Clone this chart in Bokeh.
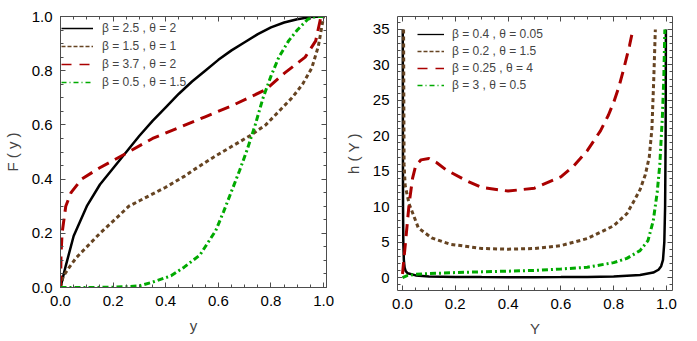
from bokeh.plotting import figure
from bokeh.layouts import row
from bokeh.models import (LinearAxis, FixedTicker, PrintfTickFormatter, Legend,
                          LegendItem, Range1d)
from bokeh.embed import file_html
from bokeh.resources import INLINE

# ---------------- data: left panel F(y) ----------------
F1_x = [0, 0.01, 0.02, 0.05, 0.1, 0.15, 0.2, 0.25, 0.3, 0.35, 0.4, 0.45, 0.5, 0.55, 0.6, 0.65, 0.7, 0.75, 0.8, 0.85, 0.9, 0.95, 1.0]
F1_y = [0, 0.04, 0.08, 0.19, 0.30, 0.38, 0.44, 0.50, 0.56, 0.615, 0.665, 0.715, 0.76, 0.80, 0.84, 0.875, 0.905, 0.935, 0.96, 0.978, 0.99, 0.998, 1.0]

F2_x = [0, 0.01, 0.03, 0.06, 0.1, 0.15, 0.2, 0.26, 0.3, 0.4, 0.47, 0.5, 0.58, 0.65, 0.72, 0.78, 0.83, 0.88, 0.92, 0.955, 0.98, 1.0]
F2_y = [0, 0.04, 0.07, 0.11, 0.15, 0.20, 0.245, 0.30, 0.32, 0.37, 0.41, 0.43, 0.48, 0.52, 0.56, 0.60, 0.65, 0.70, 0.75, 0.81, 0.89, 1.0]

F3_x = [0, 0.002, 0.006, 0.02, 0.04, 0.08, 0.146, 0.253, 0.35, 0.475, 0.55, 0.65, 0.78, 0.85, 0.93, 0.97, 0.99]
F3_y = [0, 0.12, 0.20, 0.30, 0.35, 0.40, 0.44, 0.497, 0.55, 0.60, 0.63, 0.67, 0.73, 0.79, 0.85, 0.91, 1.0]

F4_x = [0, 0.1, 0.2, 0.25, 0.3, 0.35, 0.42, 0.47, 0.53, 0.59, 0.62, 0.65, 0.68, 0.71, 0.74, 0.77, 0.8, 0.83, 0.867, 0.9, 0.94, 0.97, 1.0]
F4_y = [0, 0, 0.001, 0.003, 0.006, 0.02, 0.043, 0.075, 0.12, 0.21, 0.28, 0.355, 0.43, 0.51, 0.60, 0.70, 0.78, 0.85, 0.91, 0.95, 0.99, 1.0, 1.0]

# ---------------- data: right panel h(Y) ----------------
H1_x = [0.001, 0.0015, 0.002, 0.003, 0.005, 0.008, 0.012, 0.02, 0.05, 0.1, 0.2, 0.3, 0.4, 0.5, 0.6, 0.7, 0.8, 0.9, 0.95, 0.97, 0.98, 0.987, 0.992, 0.995, 0.997, 0.998]
H1_y = [35, 20, 10, 5, 2.5, 1.4, 0.9, 0.6, 0.3, 0.15, 0.08, 0.06, 0.05, 0.05, 0.06, 0.08, 0.15, 0.35, 0.7, 1.1, 1.6, 2.5, 5, 10, 20, 35]

H2_x = [0.004, 0.005, 0.006, 0.01, 0.025, 0.06, 0.11, 0.18, 0.3, 0.4, 0.5, 0.6, 0.7, 0.8, 0.85, 0.88, 0.9, 0.92, 0.935, 0.945, 0.952, 0.958]
H2_y = [35, 25, 16, 13, 10.4, 7.0, 5.6, 4.7, 4.1, 4.0, 4.1, 4.5, 5.5, 7.3, 9.0, 11.0, 12.4, 14.5, 17.0, 21.0, 28.0, 35.0]

H3_x = [0.0, 0.005, 0.013, 0.025, 0.038, 0.05, 0.07, 0.1, 0.13, 0.165, 0.24, 0.3, 0.4, 0.5, 0.6, 0.65, 0.7, 0.75, 0.78, 0.8, 0.82, 0.84, 0.86, 0.873]
H3_y = [0.5, 2.5, 5.6, 10.4, 14.0, 15.8, 16.6, 16.8, 16.2, 15.2, 13.7, 12.7, 12.2, 12.6, 14.2, 15.8, 17.9, 20.7, 22.9, 24.7, 26.9, 29.7, 32.7, 35.0]

H4_x = [0.0, 0.02, 0.05, 0.1, 0.2, 0.3, 0.4, 0.5, 0.6, 0.7, 0.8, 0.85, 0.9, 0.93, 0.95, 0.965, 0.975, 0.985, 0.99, 0.994]
H4_y = [0.0, 0.3, 0.45, 0.55, 0.7, 0.8, 0.9, 1.0, 1.2, 1.45, 2.1, 2.7, 3.8, 5.2, 8.0, 12.0, 16.0, 23.0, 28.0, 35.0]

left_labels = ["\u03b2 = 2.5 , \u03b8 = 2", "\u03b2 = 1.5 , \u03b8 = 1",
               "\u03b2 = 3.7 , \u03b8 = 2", "\u03b2 = 0.5 , \u03b8 = 1.5"]
right_labels = ["\u03b2 = 0.4 , \u03b8 = 0.05", "\u03b2 = 0.2 , \u03b8 = 1.5",
                "\u03b2 = 0.25 , \u03b8 = 4", "\u03b2 = 3 , \u03b8 = 0.5"]

unit_major = [0.0, 0.2, 0.4, 0.6, 0.8, 1.0]
unit_minor = [i * 0.05 for i in range(0, 21)]
h_major = [0, 5, 10, 15, 20, 25, 30, 35]
h_minor = list(range(-1, 37))

FONT = "Liberation Sans"
AX = "#4d4d4d"
COLORS = ["black", "#664422", "#aa0000", "#00aa00"]
DASHES = ["solid", "4 3", "12 7", "6 3 2 3"]
LEG_DASHES = ["solid", "4 2", "10 8", "5 3 1 3"]
NAN = float("nan")


def style_axis(ax, major, minor, fmt, labels=True):
    ax.ticker = FixedTicker(ticks=major, minor_ticks=minor)
    ax.formatter = PrintfTickFormatter(format=fmt)
    ax.axis_line_color = AX
    ax.axis_line_width = 1
    ax.major_tick_line_color = AX
    ax.minor_tick_line_color = AX
    ax.major_tick_in = 5
    ax.major_tick_out = 0
    ax.minor_tick_in = 3
    ax.minor_tick_out = 0
    ax.major_label_text_font = FONT
    if labels:
        ax.major_label_text_color = "black"
        ax.major_label_text_font_size = "15px"
        ax.major_label_standoff = 8
        ax.axis_label_text_font = FONT
        ax.axis_label_text_font_size = "15px"
        ax.axis_label_text_font_style = "normal"
        ax.axis_label_standoff = 8
    else:
        ax.major_label_text_color = None
        ax.major_label_text_alpha = 0
        ax.major_label_text_font_size = "1px"
        ax.major_label_standoff = 0


def make_panel(xs, ys, labels, xr, yr, xmaj, xmin, xfmt, ymaj, ymin, yfmt,
               xlabel, ylabel, fw, fh, bl, br, bb, leg_loc, leg_spacing, glyph_w, standoff):
    p = figure(output_backend="svg", toolbar_location=None,
               frame_width=fw, frame_height=fh,
               min_border_left=bl, min_border_right=br, min_border_top=16,
               min_border_bottom=bb, x_axis_location=None, y_axis_location=None,
               x_range=Range1d(*xr), y_range=Range1d(*yr))
    p.outline_line_color = None
    p.grid.visible = False
    p.background_fill_color = "white"
    p.border_fill_color = "white"

    xb = LinearAxis(axis_label=xlabel)
    style_axis(xb, xmaj, xmin, xfmt)
    p.add_layout(xb, "below")
    yl = LinearAxis(axis_label=ylabel)
    style_axis(yl, ymaj, ymin, yfmt)
    p.add_layout(yl, "left")
    xt = LinearAxis()
    style_axis(xt, xmaj, xmin, xfmt, labels=False)
    p.add_layout(xt, "above")
    yrr = LinearAxis()
    style_axis(yrr, ymaj, ymin, yfmt, labels=False)
    p.add_layout(yrr, "right")

    items = []
    for i, (x, y) in enumerate(zip(xs, ys)):
        w = 2.5 if i == 0 else 3
        p.line(x, y, line_color=COLORS[i], line_width=w, line_dash=DASHES[i])
        dummy = p.line([NAN, NAN], [NAN, NAN], line_color=COLORS[i], line_width=1.3,
                       line_dash=LEG_DASHES[i])
        items.append(LegendItem(label=labels[i], renderers=[dummy]))
    leg = Legend(items=items, location=leg_loc, background_fill_alpha=0,
                 border_line_color=None, padding=0, margin=0,
                 label_text_font=FONT, label_text_font_size="12px",
                 label_height=12, glyph_height=12, spacing=leg_spacing,
                 glyph_width=glyph_w, label_standoff=standoff)
    p.add_layout(leg)
    return p


p1 = make_panel([F1_x, F2_x, F3_x, F4_x], [F1_y, F2_y, F3_y, F4_y], left_labels,
                (0, 1.011), (0, 1.0), unit_major, unit_minor, "%.1f",
                unit_major, unit_minor, "%.1f", "y", "F ( y )",
                266, 271, 54, 15, 46, (1, 198), 4, 32, 9)
p2 = make_panel([H1_x, H2_x, H3_x, H4_x], [H1_y, H2_y, H3_y, H4_y], right_labels,
                (-0.019, 1.023), (-1.83, 36.83), unit_major, unit_minor, "%.1f",
                h_major, h_minor, "%d", "Y", "h ( Y )",
                275, 274, 53, 14, 43, (20, 198), 3, 27, 8)

layout = row(p1, p2, spacing=0)
open("out.html", "w").write(file_html(layout, INLINE))
